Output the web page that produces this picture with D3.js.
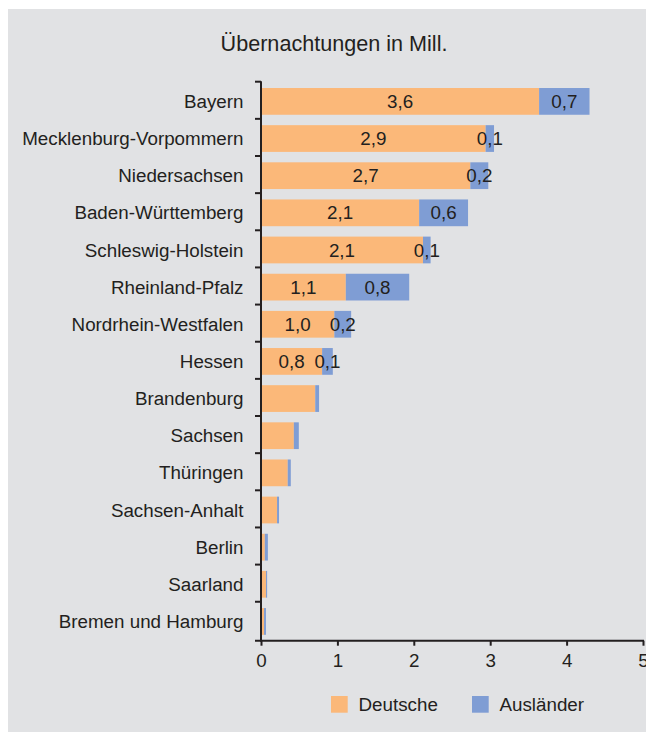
<!DOCTYPE html>
<html>
<head>
<meta charset="utf-8">
<script src="https://cdn.jsdelivr.net/npm/d3@7"></script>
<style>
  html, body { margin: 0; padding: 0; background: #ffffff; }
  svg { display: block; font-family: "Liberation Sans", Arial, Helvetica, sans-serif; }
</style>
</head>
<body>
<svg id="chart" width="646" height="734"></svg>
<script>
const categories = ["Bayern", "Mecklenburg-Vorpommern", "Niedersachsen", "Baden-Württemberg",
  "Schleswig-Holstein", "Rheinland-Pfalz", "Nordrhein-Westfalen", "Hessen", "Brandenburg",
  "Sachsen", "Thüringen", "Sachsen-Anhalt", "Berlin", "Saarland", "Bremen und Hamburg"];
const deutsche = [3.64, 2.94, 2.74, 2.07, 2.12, 1.11, 0.96, 0.80, 0.71, 0.43, 0.35, 0.21, 0.05, 0.065, 0.04];
const auslaender = [0.66, 0.11, 0.235, 0.64, 0.10, 0.83, 0.22, 0.14, 0.05, 0.065, 0.04, 0.026, 0.04, 0.015, 0.025];
const seriesNames = ["Deutsche", "Ausländer"];
const xTicks = [0, 1, 2, 3, 4, 5];
const labelledRows = 8;
const title = "Übernachtungen in Mill.";

const colors = ["#FBB879", "#7F9DD4"];
const textColor = "#231F20";
const fs = 18.8;

const svg = d3.select("#chart");

svg.append("rect").attr("x", 8).attr("y", 9).attr("width", 638).attr("height", 723)
  .attr("fill", "#E1E2E4");

svg.append("text").attr("x", 334).attr("y", 51).attr("text-anchor", "middle")
  .attr("font-size", 21.6).attr("fill", textColor).text(title);

const x = d3.scaleLinear().domain([0, 5]).range([261, 643]);
const y = d3.scaleBand().domain(categories).range([81.7, 638.9]).paddingInner(0).paddingOuter(0);
const bw = y.bandwidth();
const barOff = 0.17 * bw;
const barH = 0.72 * bw;

const rows = categories.map((c, i) => ({ c, i, de: deutsche[i], au: auslaender[i] }));
const fmt = v => d3.format(".1f")(v).replace(".", ",");

const g = svg.append("g");
g.selectAll("rect.de").data(rows).join("rect").attr("class", "de")
  .attr("x", d => x(0)).attr("y", d => y(d.c) + barOff)
  .attr("width", d => x(d.de) - x(0)).attr("height", barH).attr("fill", colors[0]);
g.selectAll("rect.au").data(rows).join("rect").attr("class", "au")
  .attr("x", d => x(d.de)).attr("y", d => y(d.c) + barOff)
  .attr("width", d => x(d.de + d.au) - x(d.de)).attr("height", barH).attr("fill", colors[1]);

const lab = rows.filter(d => d.i < labelledRows);
g.selectAll("text.vde").data(lab).join("text").attr("class", "vde")
  .attr("x", d => (x(0) + x(d.de)) / 2).attr("y", d => y(d.c) + barOff + barH / 2 + 6.6)
  .attr("text-anchor", "middle").attr("font-size", fs).attr("fill", textColor)
  .text(d => fmt(d.de));
g.selectAll("text.vau").data(lab).join("text").attr("class", "vau")
  .attr("x", d => (x(d.de) + x(d.de + d.au)) / 2).attr("y", d => y(d.c) + barOff + barH / 2 + 6.6)
  .attr("text-anchor", "middle").attr("font-size", fs).attr("fill", textColor)
  .text(d => fmt(d.au));

svg.selectAll("text.cat").data(rows).join("text").attr("class", "cat")
  .attr("x", 243.5).attr("y", d => y(d.c) + barOff + barH / 2 + 6.6)
  .attr("text-anchor", "end").attr("font-size", fs).attr("fill", textColor)
  .text(d => d.c);

const yAxisG = svg.append("g").attr("stroke", textColor);
const boundaries = categories.map(c => y(c));
yAxisG.append("line").attr("x1", x(0)).attr("x2", x(0)).attr("y1", y.range()[0] - 0.5).attr("y2", 641.7)
  .attr("stroke-width", 2);
yAxisG.selectAll("line.yt").data(boundaries).join("line").attr("class", "yt")
  .attr("x1", x(0) - 6).attr("x2", x(0)).attr("y1", d => d).attr("y2", d => d).attr("stroke-width", 2);

const xAxis = d3.axisBottom(x).tickValues(xTicks).tickSize(5).tickSizeOuter(0)
  .tickFormat(d => String(d));
const xg = svg.append("g").attr("transform", "translate(0,640.7)").call(xAxis);
xg.select(".domain").attr("stroke", textColor).attr("stroke-width", 2)
  .attr("d", `M255,0H${x(5) + 1}`);
xg.selectAll(".tick line").attr("stroke", textColor).attr("stroke-width", 2);
xg.selectAll(".tick text").attr("font-size", fs).attr("fill", textColor)
  .attr("font-family", "Liberation Sans, Arial, sans-serif").attr("dy", null).attr("y", 26.5);

const legendX = [331, 472];
const lg = svg.append("g");
seriesNames.forEach((n, i) => {
  lg.append("rect").attr("x", legendX[i]).attr("y", 696).attr("width", 16.7).attr("height", 16.7)
    .attr("fill", colors[i]);
  lg.append("text").attr("x", legendX[i] + 27.5).attr("y", 711).attr("font-size", fs)
    .attr("fill", textColor).text(n);
});
</script>
</body>
</html>
